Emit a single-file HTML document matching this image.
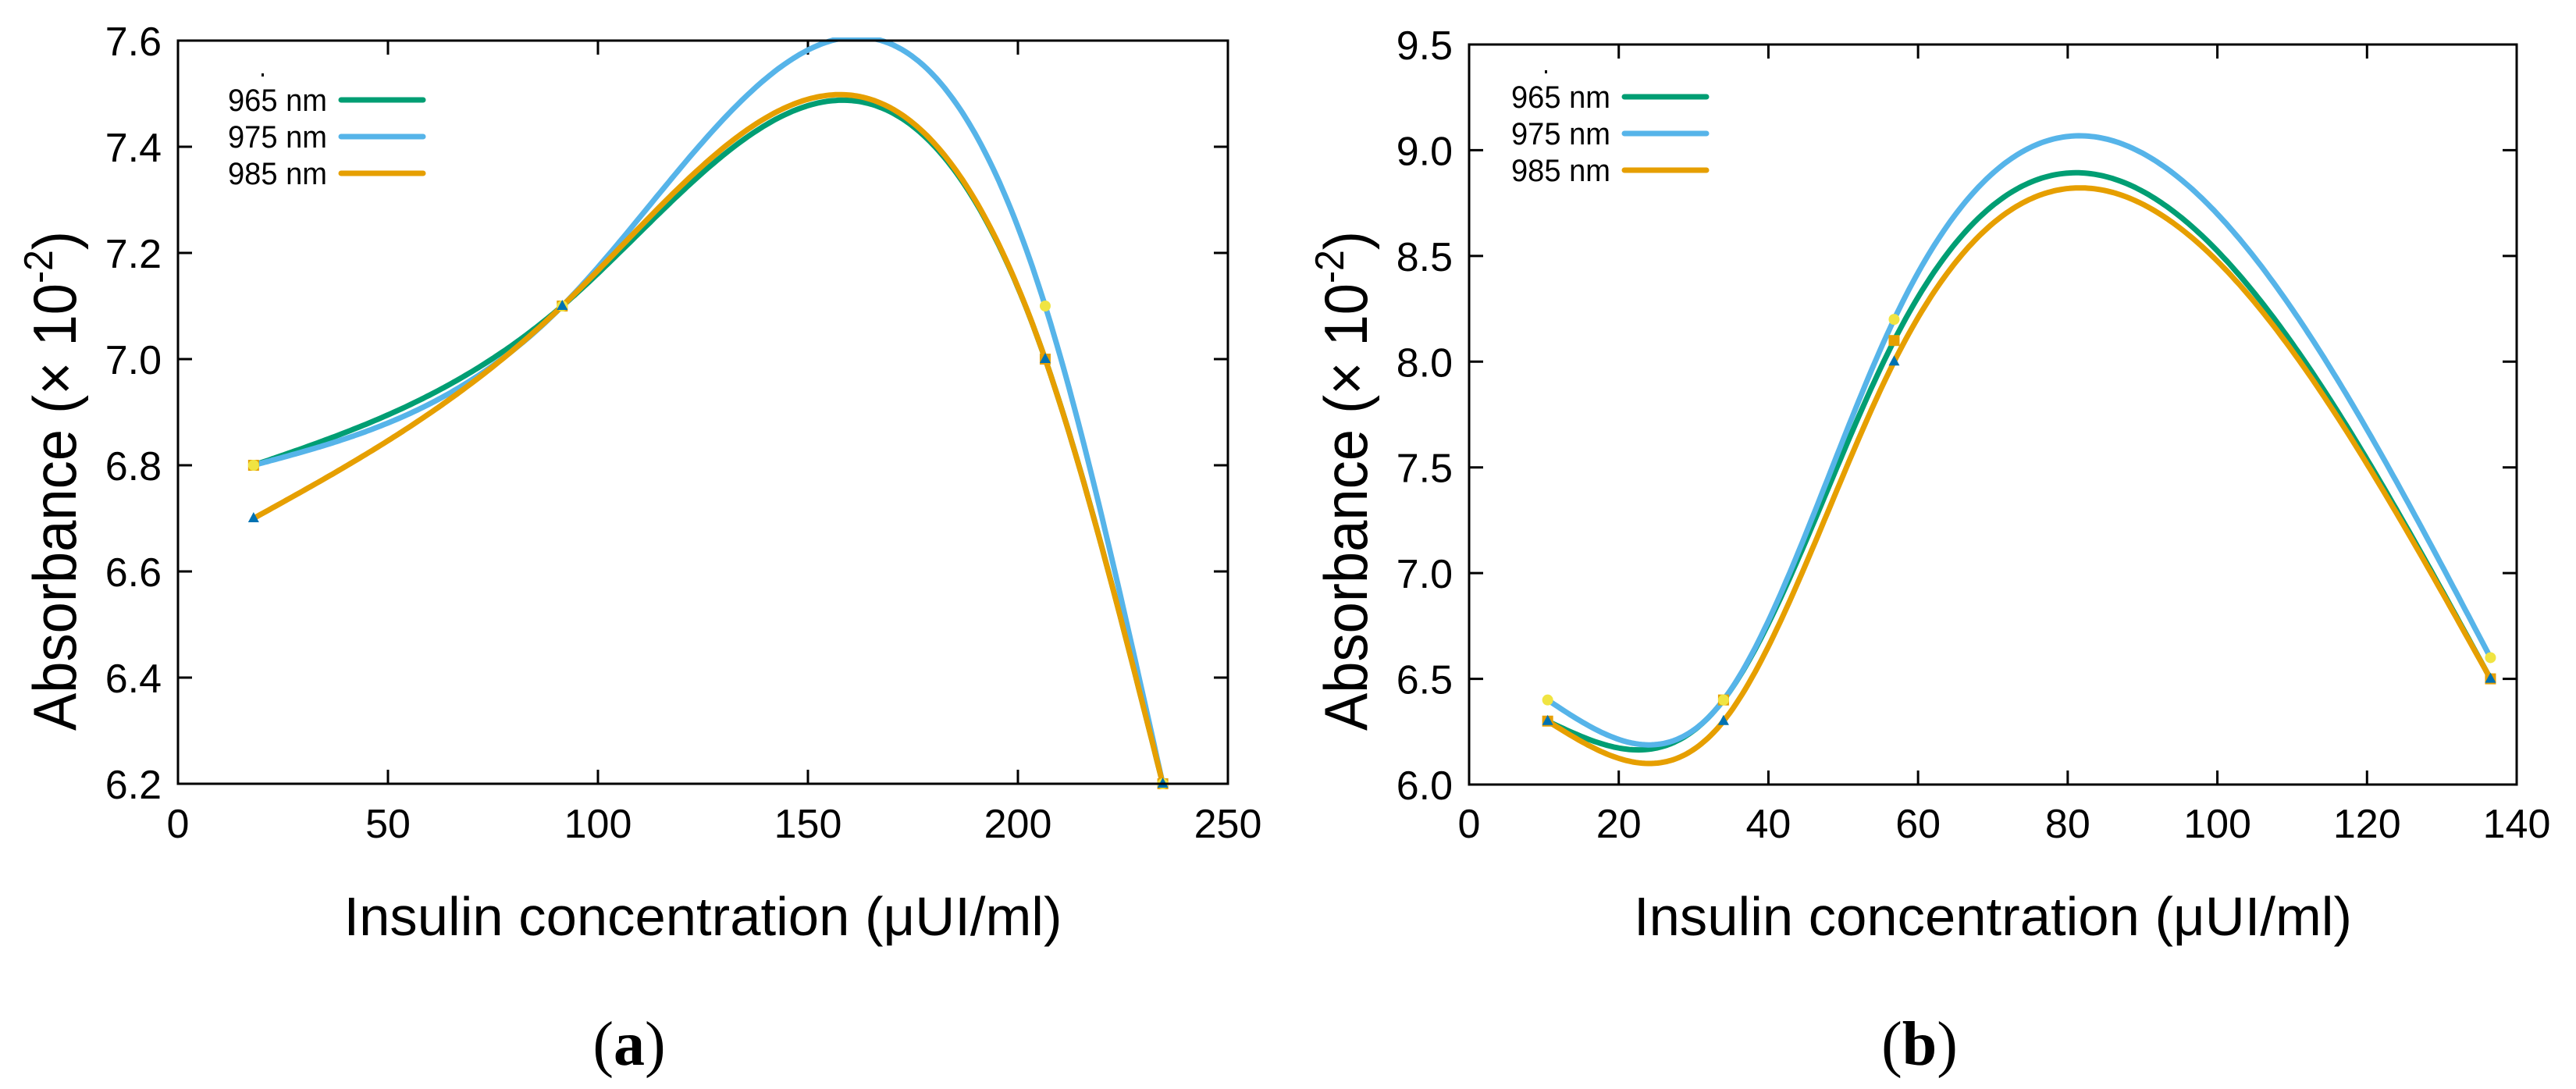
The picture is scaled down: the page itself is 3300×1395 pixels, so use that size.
<!DOCTYPE html>
<html><head><meta charset="utf-8"><style>
html,body{margin:0;padding:0;background:#fff;}
svg{display:block;}
text{font-family:"Liberation Sans",sans-serif;fill:#000;}
</style></head><body>
<svg id="fig" width="3300" height="1395" viewBox="0 0 3300 1395" xmlns="http://www.w3.org/2000/svg"></svg>
<script>
// ---- Panel (a) data ----
const xA = [18, 91.5, 206.5, 234.5];
const a965 = [6.8, 7.1, 7.0, 6.2];
const a975 = [6.8, 7.1, 7.1, 6.2];
const a985 = [6.7, 7.1, 7.0, 6.2];
const xTicksA = [0, 50, 100, 150, 200, 250];
const yTicksA = ["6.2","6.4","6.6","6.8","7.0","7.2","7.4","7.6"];
// ---- Panel (b) data ----
const xB = [10.5, 34, 56.8, 136.5];
const b965 = [6.3, 6.4, 8.1, 6.5];
const b975 = [6.4, 6.4, 8.2, 6.6];
const b985 = [6.3, 6.3, 8.0, 6.5];
const xTicksB = [0, 20, 40, 60, 80, 100, 120, 140];
const yTicksB = ["6.0","6.5","7.0","7.5","8.0","8.5","9.0","9.5"];
const seriesNames = ["965 nm", "975 nm", "985 nm"];

const NS = "http://www.w3.org/2000/svg";
const svg = document.getElementById("fig");
const COLORS = ["#009e73", "#56b4e9", "#e69f00"];
function mk(tag, attrs, parent) {
  const e = document.createElementNS(NS, tag);
  for (const k in attrs) e.setAttribute(k, attrs[k]);
  (parent || svg).appendChild(e);
  return e;
}
// natural cubic spline
function spline(xs, ys) {
  const n = xs.length, h = [], al = [], l = [1], mu = [0], z = [0], c = new Array(n).fill(0), b = [], d = [];
  for (let i = 0; i < n - 1; i++) h[i] = xs[i + 1] - xs[i];
  for (let i = 1; i < n - 1; i++) al[i] = 3 / h[i] * (ys[i + 1] - ys[i]) - 3 / h[i - 1] * (ys[i] - ys[i - 1]);
  for (let i = 1; i < n - 1; i++) {
    l[i] = 2 * (xs[i + 1] - xs[i - 1]) - h[i - 1] * mu[i - 1];
    mu[i] = h[i] / l[i];
    z[i] = (al[i] - h[i - 1] * z[i - 1]) / l[i];
  }
  for (let j = n - 2; j >= 0; j--) {
    c[j] = (j === 0 ? 0 : z[j]) - mu[j] * c[j + 1];
    if (j === 0) c[0] = 0;
    b[j] = (ys[j + 1] - ys[j]) / h[j] - h[j] * (c[j + 1] + 2 * c[j]) / 3;
    d[j] = (c[j + 1] - c[j]) / (3 * h[j]);
  }
  return x => {
    let i = 0;
    while (i < n - 2 && x > xs[i + 1]) i++;
    const t = x - xs[i];
    return ys[i] + b[i] * t + c[i] * t * t + d[i] * t * t * t;
  };
}
function panel(cfg) {
  const g = mk("g", {});
  
  
  const {L, R, T, B, xmin, xmax, ymin, ymax} = cfg;
  const sx = v => L + (v - xmin) / (xmax - xmin) * (R - L);
  const sy = v => B - (v - ymin) / (ymax - ymin) * (B - T);
  const clipId = cfg.name + "-clip";
  const cp = mk("clipPath", {id: clipId}, g);
  mk("rect", {x: L, y: T - 4, width: R - L, height: B - T + 8}, cp);
  cfg.xTicks.forEach(t => {
    const x = sx(t);
    const tk = mk("path", {d: `M${x},${B}v-18M${x},${T}v18`, stroke: "#000", "stroke-width": 3}, g);
    
    
    const lb = mk("text", {x: x, y: 1073, "font-size": 52, "text-anchor": "middle"}, g);
    lb.textContent = t;
    
    
  });
  cfg.yTicks.forEach(t => {
    const y = sy(parseFloat(t));
    const tk = mk("path", {d: `M${L},${y}h18M${R},${y}h-18`, stroke: "#000", "stroke-width": 3}, g);
    
    
    const lb = mk("text", {x: L - 21, y: y + 19, "font-size": 52, "text-anchor": "end"}, g);
    lb.textContent = t;
    
    
  });
  cfg.series.forEach((ys, si) => {
    const f = spline(cfg.xs, ys);
    let d = "";
    const x0 = cfg.xs[0], x1 = cfg.xs[cfg.xs.length - 1];
    for (let i = 0; i <= 300; i++) {
      const xv = x0 + (x1 - x0) * i / 300;
      d += (i ? "L" : "M") + sx(xv).toFixed(1) + "," + sy(f(xv)).toFixed(1);
    }
    const p = mk("path", {d: d, fill: "none", stroke: COLORS[si], "stroke-width": 7, "stroke-linejoin": "round", "clip-path": `url(#${clipId})`}, g);
    
    
  });
  cfg.xs.forEach((xv, i) => {
    const x = sx(xv);
    const m1 = mk("rect", {x: x - 7, y: sy(cfg.series[0][i]) - 7, width: 14, height: 14, fill: "#e69f00"}, g);
    
    
    const m2 = mk("circle", {cx: x, cy: sy(cfg.series[1][i]), r: 7, fill: "#f0e442"}, g);
    
    
    const yy = sy(cfg.series[2][i]);
    const m3 = mk("path", {d: `M${x},${yy - 8}L${x + 7},${yy + 5}L${x - 7},${yy + 5}Z`, fill: "#0072b2"}, g);
    
    
  });
  const fr = mk("rect", {x: L, y: T, width: R - L, height: B - T, fill: "none", stroke: "#000", "stroke-width": 3}, g);
  
  
  seriesNames.forEach((n, i) => {
    const y = cfg.legY + i * 47;
    const t = mk("text", {x: cfg.legX, y: y + 14, "font-size": 40, "text-anchor": "end", textLength: 127, lengthAdjust: "spacingAndGlyphs"}, g);
    t.textContent = n;
    
    
    const l = mk("line", {x1: cfg.legX + 18, x2: cfg.legX + 123, y1: y, y2: y, stroke: COLORS[i], "stroke-width": 7, "stroke-linecap": "round"}, g);
    
    
  });
  mk("rect", {x: cfg.legX - 84, y: cfg.legY - 34, width: 3, height: 4, fill: "#000"}, g);
  const yt = mk("text", {transform: `translate(${L - 131},616) rotate(-90)`, "font-size": 78, "text-anchor": "middle", textLength: 640, lengthAdjust: "spacingAndGlyphs"}, g);
  yt.innerHTML = 'Absorbance (× 10<tspan dy="-30" font-size="52">-2</tspan><tspan dy="30">)</tspan>';
  
  
  const xt = mk("text", {x: (L + R) / 2, y: 1198, "font-size": 70, "text-anchor": "middle", textLength: 920, lengthAdjust: "spacingAndGlyphs"}, g);
  xt.textContent = "Insulin concentration (μUI/ml)";
  
  
  const cap = mk("text", {x: cfg.capX, y: 1364, "font-size": 80, "text-anchor": "middle", style: "font-family:'Liberation Serif',serif"}, g);
  cap.innerHTML = '(<tspan font-weight="bold">' + cfg.cap + '</tspan>)';
  
  
}
panel({name: "panel-a", L: 228, R: 1573, T: 52, B: 1004, xmin: 0, xmax: 250, ymin: 6.2, ymax: 7.6,
  xs: xA, series: [a965, a975, a985], xTicks: xTicksA, yTicks: yTicksA, legX: 419, legY: 128, capX: 806, cap: "a"});
panel({name: "panel-b", L: 1882, R: 3224, T: 57, B: 1005, xmin: 0, xmax: 140, ymin: 6.0, ymax: 9.5,
  xs: xB, series: [b965, b975, b985], xTicks: xTicksB, yTicks: yTicksB, legX: 2063, legY: 124, capX: 2459, cap: "b"});
</script>
</body></html>
